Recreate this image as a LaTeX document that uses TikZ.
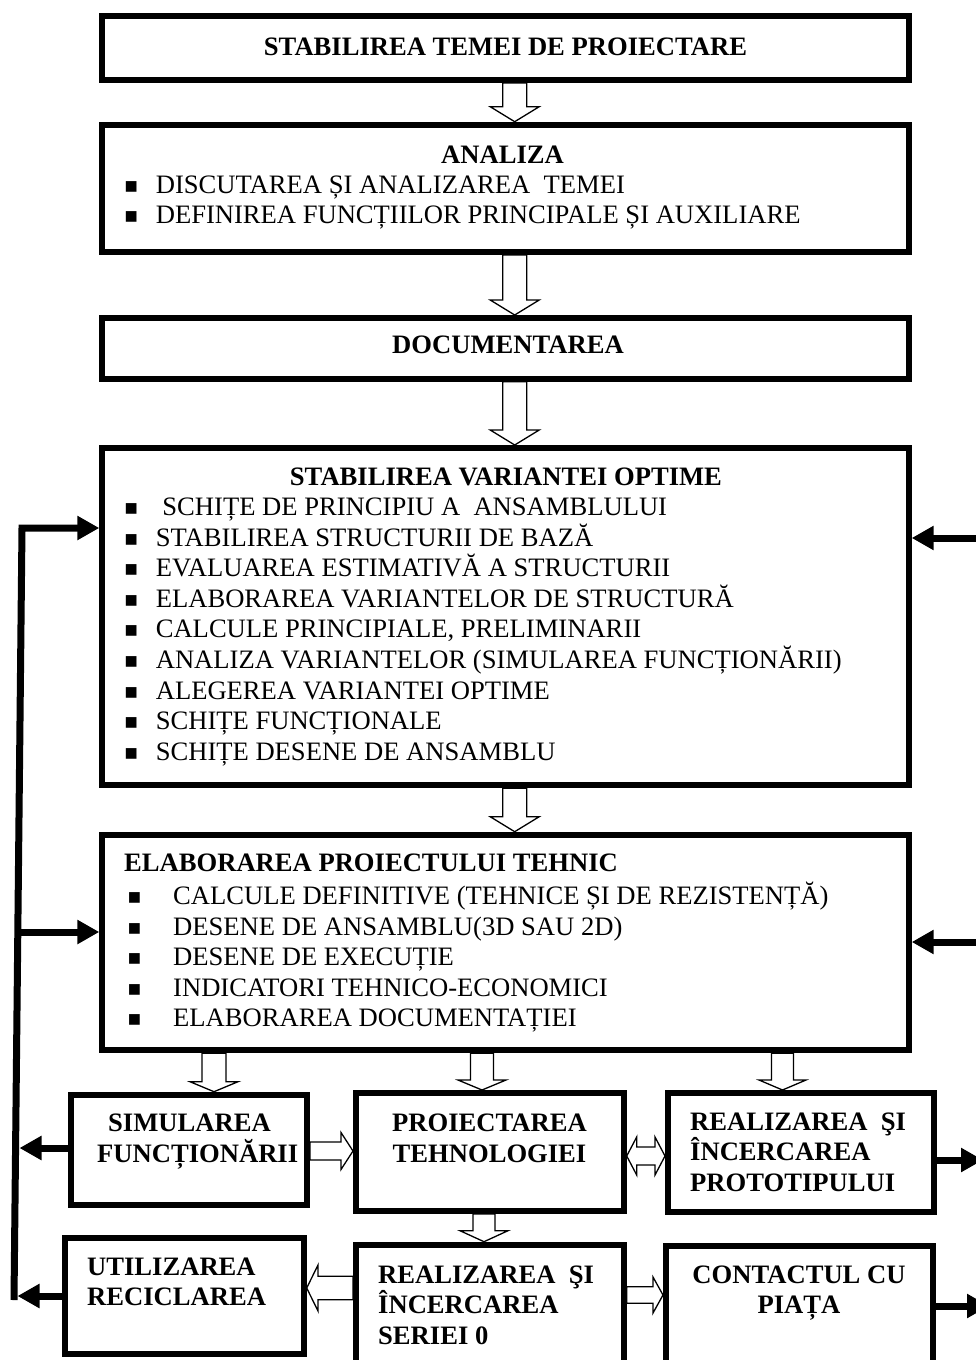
\documentclass[tikz,border=0pt]{standalone}
\usepackage{fontspec}
\setmainfont{Liberation Serif}
\usetikzlibrary{calc,arrows.meta}
\newcommand\bulA{\makebox[31.1pt][l]{\fontsize{22}{22}\selectfont ■}}
\newcommand\bulB{\makebox[45.4pt][l]{\fontsize{22}{22}\selectfont ■}}
\begin{document}
\begin{tikzpicture}[x=1pt,y=-1pt,
  box/.style={draw, line width=6pt, inner sep=0pt, rectangle},
  txt/.style={inner sep=0pt, anchor=base west, font=\fontsize{26.6}{30.6}\selectfont},
  btxt/.style={txt, font=\fontsize{26.6}{30.6}\selectfont\bfseries},
  ctxt/.style={btxt, anchor=base},
  fb/.style={line width=7pt, line join=miter, -{Triangle[length=22pt,width=23pt]}},
  blk/.style n args={3}{draw, line width=1.3pt, fill=white, line join=miter,
    to path={let \p1=(\tikztostart), \p2=(\tikztotarget),
      \n1={atan2(\y2-\y1,\x2-\x1)}, \n2={veclen(\x2-\x1,\y2-\y1)-#3} in
      ($(\p1)+(\n1+90:#1)$) -- ($(\p1)+(\n1:\n2)+(\n1+90:#1)$) -- ($(\p1)+(\n1:\n2)+(\n1+90:#2)$) -- (\p2)
      -- ($(\p1)+(\n1:\n2)+(\n1-90:#2)$) -- ($(\p1)+(\n1:\n2)+(\n1-90:#1)$) -- ($(\p1)+(\n1-90:#1)$) -- cycle}},
  blkboth/.style n args={3}{draw, line width=1.3pt, fill=white, line join=miter,
    to path={let \p1=(\tikztostart), \p2=(\tikztotarget),
      \n1={atan2(\y2-\y1,\x2-\x1)}, \n2={veclen(\x2-\x1,\y2-\y1)-#3} in
      (\p1) -- ($(\p1)+(\n1:#3)+(\n1+90:#2)$) -- ($(\p1)+(\n1:#3)+(\n1+90:#1)$)
      -- ($(\p1)+(\n1:\n2)+(\n1+90:#1)$) -- ($(\p1)+(\n1:\n2)+(\n1+90:#2)$) -- (\p2)
      -- ($(\p1)+(\n1:\n2)+(\n1-90:#2)$) -- ($(\p1)+(\n1:\n2)+(\n1-90:#1)$)
      -- ($(\p1)+(\n1:#3)+(\n1-90:#1)$) -- ($(\p1)+(\n1:#3)+(\n1-90:#2)$) -- cycle}}
]
\useasboundingbox (0,0) rectangle (976,1360);
\clip (0,0) rectangle (976,1360);

% boxes (named, borders redrawn on top later)
\path
  node[box, minimum width=806.4pt, minimum height=63.7pt] (b1) at (505.5,48.15) {}
  node[box, minimum width=806.4pt, minimum height=127.3pt] (b2) at (505.5,188.35) {}
  node[box, minimum width=806.4pt, minimum height=60.7pt] (b3) at (505.5,348.35) {}
  node[box, minimum width=806.4pt, minimum height=337.3pt] (b4) at (505.5,616.65) {}
  node[box, minimum width=806.4pt, minimum height=215.6pt] (b5) at (505.5,942.5) {}
  node[box, minimum width=236pt, minimum height=110.3pt] (sim) at (189,1149.85) {}
  node[box, minimum width=267.7pt, minimum height=118pt] (proj) at (489.85,1152) {}
  node[box, minimum width=266pt, minimum height=119pt] (proto) at (801,1152.5) {}
  node[box, minimum width=239pt, minimum height=115.7pt] (util) at (184.2,1295.85) {}
  node[box, minimum width=267.7pt, minimum height=127.3pt] (ser) at (489.85,1308.35) {}
  node[box, minimum width=266.7pt, minimum height=126.3pt] (cont) at (799.35,1308.85) {};

% block arrows
\draw[blk={12pt}{24.5pt}{15pt}] ([xshift=9.2pt]b1.south) to ([xshift=9.2pt]b2.north);
\draw[blk={12pt}{24.5pt}{15pt}] ([xshift=9.2pt]b2.south) to ([xshift=9.2pt]b3.north);
\draw[blk={12pt}{24.5pt}{15pt}] ([xshift=9.2pt]b3.south) to ([xshift=9.2pt]b4.north);
\draw[blk={12pt}{24.5pt}{15pt}] ([xshift=9.2pt]b4.south) to ([xshift=9.2pt]b5.north);
\coordinate (simN) at ([xshift=25pt]sim.north);
\coordinate (projN) at ([xshift=-7.85pt]proj.north);
\coordinate (protoN) at ([xshift=-18.5pt]proto.north);
\coordinate (serN) at ([xshift=-5.85pt]ser.north);
\draw[blk={12pt}{24pt}{10pt}] (b5.south -| simN) to (simN);
\draw[blk={11.5pt}{24pt}{10pt}] (b5.south -| projN) to (projN);
\draw[blk={11pt}{23.5pt}{10pt}] (b5.south -| protoN) to (protoN);
\draw[blk={11pt}{24pt}{11pt}] (proj.south -| serN) to (serN);
\draw[blk={9pt}{18.5pt}{12pt}] (sim.east |- 0,1151) to (proj.west |- 0,1151);
\draw[blkboth={9pt}{19pt}{10pt}] (proj.east |- 0,1156) to (proto.west |- 0,1156);
\draw[blk={11.7pt}{23pt}{11.3pt}] (ser.west |- 0,1288) to (util.east |- 0,1288);
\draw[blk={8.3pt}{18pt}{10pt}] (ser.east |- 0,1295) to (cont.west |- 0,1295);

% feedback lines
\coordinate (Lb) at (14,1300);
\coordinate (Lt) at (22,528);
\coordinate (L2) at (17.8,932);
\coordinate (L3) at (19.5,1148);
\coordinate (L4) at (17.5,1296);
\draw[fb] (Lb) -- (Lt) -- (b4.west |- Lt);
\draw[fb] (L2) -- (b5.west |- L2);
\draw[fb] (sim.west |- L3) -- (L3);
\draw[fb] (util.west |- L4) -- (L4);
\coordinate (R1) at (976,538);
\coordinate (R2) at (976,942);
\coordinate (R3) at (983,1160);
\coordinate (R4) at (989,1306);
\draw[fb] (R1) -- (R1 -| b4.east);
\draw[fb] (R2) -- (R2 -| b5.east);
\draw[fb] (proto.east |- R3) -- (R3);
\draw[fb] (cont.east |- R4) -- (R4);

% redraw box borders on top
\foreach \b in {b1,b2,b3,b4,b5,sim,proj,proto,util,ser,cont}
  \draw[line width=6pt] (\b.north west) ++(3pt,-3pt) rectangle ($(\b.south east)+(-3pt,3pt)$);

% texts
\node[ctxt] (t1) at (505.5,55.5) {STABILIREA TEMEI DE PROIECTARE};
\node[ctxt] (t2) at (502.5,163) {ANALIZA};
\node[txt] (t2a) at (124.5,193) {\bulA DISCUTAREA ȘI ANALIZAREA~ TEMEI};
\node[txt] (t2b) at (124.5,223) {\bulA DEFINIREA FUNCȚIILOR PRINCIPALE ȘI AUXILIARE};
\node[ctxt] (t3) at (508,353.5) {DOCUMENTAREA};
\node[ctxt] (t4) at (506,485) {STABILIREA VARIANTEI OPTIME};
\node[txt] (t4a) at (124.5,515.5) {\bulA~SCHIȚE DE PRINCIPIU A~ ANSAMBLULUI};
\node[txt] (t4b) at (124.5,546.1) {\bulA STABILIREA STRUCTURII DE BAZĂ};
\node[txt] (t4c) at (124.5,576.7) {\bulA EVALUAREA ESTIMATIVĂ A STRUCTURII};
\node[txt] (t4d) at (124.5,607.3) {\bulA ELABORAREA VARIANTELOR DE STRUCTURĂ};
\node[txt] (t4e) at (124.5,637.9) {\bulA CALCULE PRINCIPIALE, PRELIMINARII};
\node[txt] (t4f) at (124.5,668.5) {\bulA ANALIZA VARIANTELOR (SIMULAREA FUNCȚIONĂRII)};
\node[txt] (t4g) at (124.5,699.1) {\bulA ALEGEREA VARIANTEI OPTIME};
\node[txt] (t4h) at (124.5,729.7) {\bulA SCHIȚE FUNCȚIONALE};
\node[txt] (t4i) at (124.5,760.3) {\bulA SCHIȚE DESENE DE ANSAMBLU};
\node[btxt] (t5) at (124,871) {ELABORAREA PROIECTULUI TEHNIC};
\node[txt] (t5a) at (127.6,904.5) {\bulB CALCULE DEFINITIVE (TEHNICE ȘI DE REZISTENȚĂ)};
\node[txt] (t5b) at (127.6,935) {\bulB DESENE DE ANSAMBLU(3D SAU 2D)};
\node[txt] (t5c) at (127.6,965.5) {\bulB DESENE DE EXECUȚIE};
\node[txt] (t5d) at (127.6,996) {\bulB INDICATORI TEHNICO-ECONOMICI};
\node[txt] (t5e) at (127.6,1026.5) {\bulB ELABORAREA DOCUMENTAȚIEI};
\node[btxt] (t6a) at (108,1131) {SIMULAREA};
\node[btxt] (t6b) at (97,1162) {FUNCȚIONĂRII};
\node[ctxt] (t7a) at (489.5,1131) {PROIECTAREA};
\node[ctxt] (t7b) at (489.5,1162) {TEHNOLOGIEI};
\node[btxt] (t8a) at (690,1130) {REALIZAREA~ ŞI};
\node[btxt] (t8b) at (690,1160.5) {ÎNCERCAREA};
\node[btxt] (t8c) at (690,1191) {PROTOTIPULUI};
\node[btxt] (t9a) at (87,1275) {UTILIZAREA};
\node[btxt] (t9b) at (87,1305) {RECICLAREA};
\node[btxt] (t10a) at (378,1283) {REALIZAREA~ ŞI};
\node[btxt] (t10b) at (378,1313.5) {ÎNCERCAREA};
\node[btxt] (t10c) at (378,1344) {SERIEI 0};
\node[ctxt] (t11a) at (799,1283) {CONTACTUL CU};
\node[ctxt] (t11b) at (799,1313.5) {PIAȚA};
\end{tikzpicture}
\end{document}
